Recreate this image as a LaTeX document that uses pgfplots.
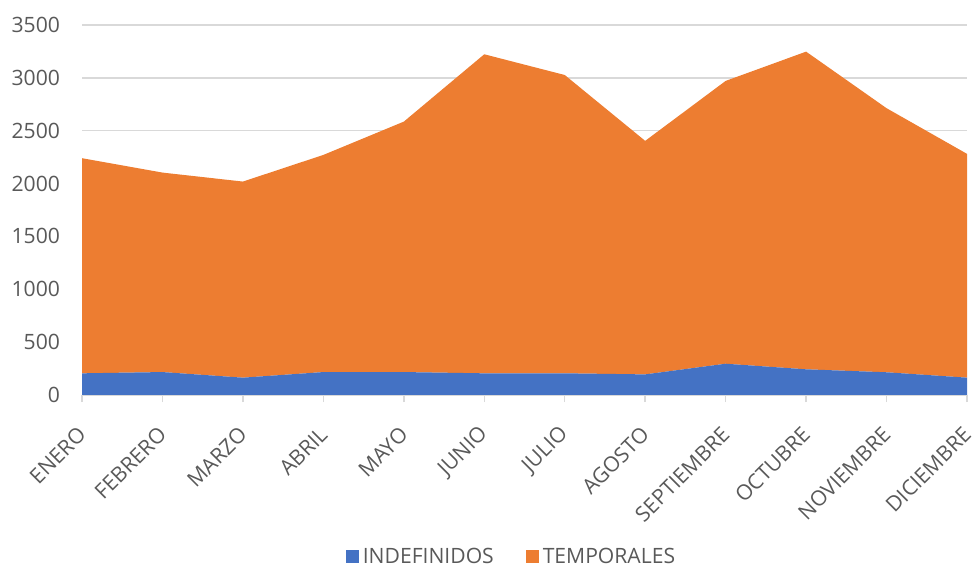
\documentclass[border=0pt]{standalone}
\usepackage{pgfplots}
\pgfplotsset{compat=1.18}
\usepackage{fontspec}
\setmainfont{Open Sans}
\definecolor{cblue}{HTML}{4472C4}
\definecolor{corange}{HTML}{ED7D31}
\definecolor{gridc}{HTML}{D9D9D9}
\definecolor{txt}{HTML}{595959}
\begin{document}
\begin{tikzpicture}
\useasboundingbox (0,0) rectangle (486.5bp,283bp);
\begin{axis}[
  at={(41bp,85.5bp)}, anchor=south west,
  scale only axis, width=442.5bp, height=185bp,
  xmin=0, xmax=11, ymin=0, ymax=3500,
  ytick={0,500,...,3500},
  xtick={0,...,11},
  xticklabels={ENERO,FEBRERO,MARZO,ABRIL,MAYO,JUNIO,JULIO,AGOSTO,SEPTIEMBRE,OCTUBRE,NOVIEMBRE,DICIEMBRE},
  axis x line*=bottom, axis y line*=left,
  y axis line style={draw=none},
  x axis line style={gridc, line width=0.75bp, -},
  ytick style={draw=none},
  xtick style={gridc, line width=0.75bp},
  tick align=outside, major tick length=3.5bp,
  ymajorgrids, grid style={gridc, line width=0.75bp},
  /pgf/number format/assume math mode=true,
  /pgf/number format/1000 sep={},
  tick label style={text=txt, font=\fontsize{10.6}{12}\selectfont},
  yticklabel style={anchor=east, xshift=-4bp},
  xticklabel style={xshift=2.5bp, yshift=-12bp, rotate=45, anchor=east},
  stack plots=y,
  legend style={at={(0.4864,-0.438)}, anchor=center, legend columns=2, draw=none, fill=none,
    font=\fontsize{10.6}{12}\selectfont, text=txt,
    /tikz/every even column/.append style={column sep=14bp}},
  legend image code/.code={\fill[#1] (0bp,-3bp) rectangle (6.5bp,3.5bp);},
]
\addplot[fill=cblue, draw=none] coordinates {
(0,205) (1,217) (2,164) (3,217) (4,217) (5,205) (6,205) (7,195) (8,296) (9,243) (10,215) (11,164)
} \closedcycle;
\addlegendentry{INDEFINIDOS}
\addplot[fill=corange, draw=none] coordinates {
(0,2035) (1,1887) (2,1855) (3,2054) (4,2369) (5,3018) (6,2822) (7,2209) (8,2675) (9,3005) (10,2498) (11,2117)
} \closedcycle;
\addlegendentry{TEMPORALES}
\end{axis}
\end{tikzpicture}
\end{document}
